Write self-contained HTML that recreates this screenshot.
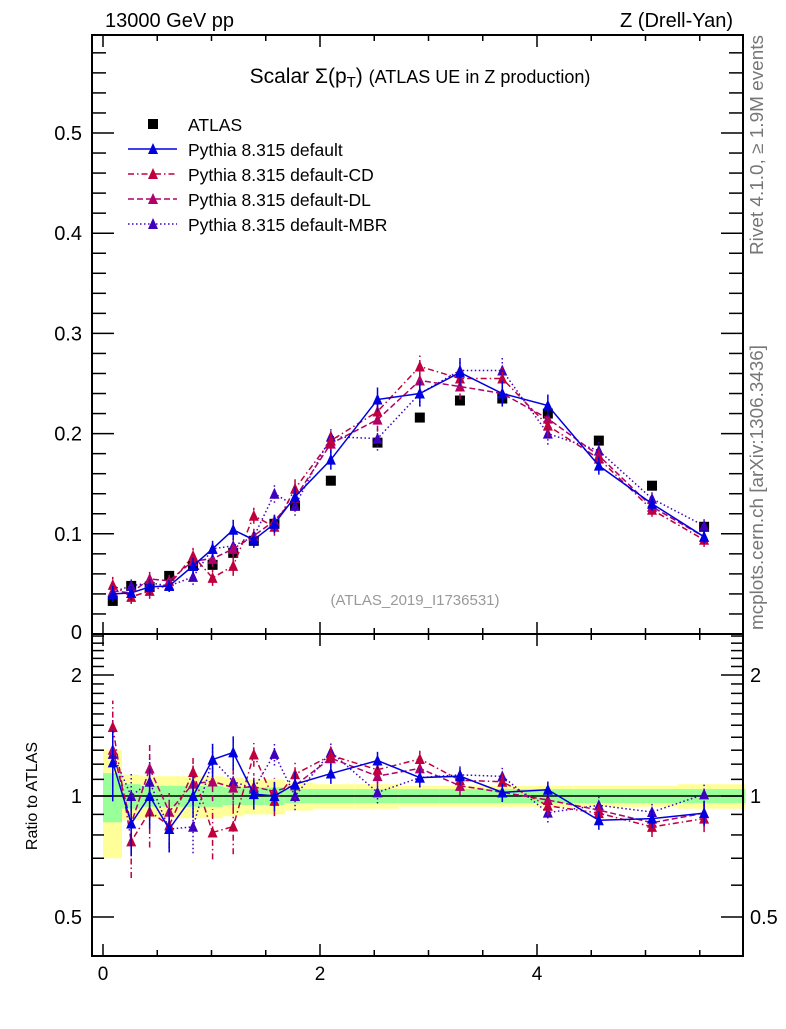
<!DOCTYPE html>
<html><head><meta charset="utf-8"><style>
body{margin:0;background:#fff;width:786px;height:1024px;overflow:hidden}
svg{font-family:"Liberation Sans",sans-serif}
</style></head><body>
<svg id="c" width="786" height="1024" xmlns="http://www.w3.org/2000/svg">
<text x="105" y="27" font-size="20">13000 GeV pp</text>
<text x="733" y="27" font-size="20" text-anchor="end">Z (Drell-Yan)</text>
<text x="420" y="83" font-size="21" text-anchor="middle">Scalar Σ(p<tspan font-size="15" dy="4">T</tspan><tspan dy="-4">) </tspan><tspan font-size="18">(ATLAS UE in Z production)</tspan></text>
<text x="415" y="605" font-size="15" fill="#999" text-anchor="middle">(ATLAS_2019_I1736531)</text>
<text transform="translate(763,255) rotate(-90)" font-size="18" fill="#777" textLength="220" lengthAdjust="spacingAndGlyphs">Rivet 4.1.0, ≥ 1.9M events</text>
<text transform="translate(763,630) rotate(-90)" font-size="18" fill="#777" textLength="285" lengthAdjust="spacingAndGlyphs">mcplots.cern.ch [arXiv:1306.3436]</text>
<text transform="translate(37,796) rotate(-90)" font-size="16" text-anchor="middle">Ratio to ATLAS</text>
<g id="g"></g>
</svg>
<script>
const xc=[0.09,0.26,0.43,0.61,0.83,1.01,1.20,1.39,1.58,1.77,2.10,2.53,2.92,3.29,3.68,4.10,4.57,5.06,5.54];
const dataV=[0.033,0.048,0.047,0.058,0.068,0.069,0.081,0.093,0.110,0.128,0.153,0.191,0.216,0.233,0.235,0.220,0.193,0.148,0.107];
const defV=[0.040,0.041,0.047,0.048,0.068,0.085,0.104,0.094,0.110,0.137,0.174,0.234,0.240,0.261,0.240,0.228,0.168,0.130,0.097];
const cdV=[0.049,0.037,0.043,0.049,0.078,0.056,0.068,0.118,0.107,0.145,0.193,0.222,0.267,0.255,0.255,0.208,0.175,0.124,0.094];
const dlV=[0.043,0.041,0.055,0.053,0.073,0.075,0.085,0.098,0.113,0.136,0.190,0.214,0.253,0.247,0.240,0.215,0.178,0.127,0.097];
const mbrV=[0.042,0.048,0.051,0.048,0.057,0.085,0.088,0.097,0.140,0.128,0.197,0.195,0.240,0.263,0.263,0.200,0.183,0.135,0.108];
const mcErr=[0.008,0.007,0.008,0.006,0.008,0.008,0.010,0.008,0.009,0.010,0.010,0.012,0.013,0.013,0.013,0.011,0.009,0.007,0.007];
const bandTot=[0.30,0.13,0.12,0.12,0.12,0.12,0.11,0.10,0.10,0.08,0.07,0.07,0.06,0.06,0.06,0.06,0.06,0.06,0.07];
const bandStat=[0.14,0.07,0.06,0.06,0.06,0.06,0.05,0.05,0.05,0.04,0.04,0.04,0.04,0.04,0.04,0.04,0.04,0.04,0.04];
const xTicks=[0,2,4];
const yTicks=[0.1,0.2,0.3,0.4,0.5];
const rTicks=[0.5,1,2];

const L=92,R=743,T=35,MB=634,RB=956;
const X=v=>103+v*108.5;
const Y=v=>MB-v*1002;
const RY=r=>796-121*Math.log2(r);
const NS="http://www.w3.org/2000/svg";
const g=document.getElementById('g');
function el(t,a,p){const e=document.createElementNS(NS,t);for(const k in a)e.setAttribute(k,a[k]);(p||g).appendChild(e);return e;}

const edges=[0];for(let i=0;i<xc.length-1;i++)edges.push((xc[i]+xc[i+1])/2);edges.push(5.92);
for(let i=0;i<xc.length;i++){
  let e=el('rect',{x:X(edges[i]),y:RY(1+bandTot[i]),width:X(edges[i+1])-X(edges[i]),height:RY(1-bandTot[i])-RY(1+bandTot[i]),fill:'#ffff99'});
  
  e=el('rect',{x:X(edges[i]),y:RY(1+bandStat[i]),width:X(edges[i+1])-X(edges[i]),height:RY(1-bandStat[i])-RY(1+bandStat[i]),fill:'#99ff99'});
  
}
let ln=el('line',{x1:L,x2:R,y1:RY(1),y2:RY(1),stroke:'#000','stroke-width':1.5});


for(const [t,b,n] of [[T,MB,'main-frame'],[MB,RB,'ratio-frame']]){
  const f=el('rect',{x:L,y:t,width:R-L,height:b-t,fill:'none',stroke:'#000','stroke-width':2});
  
}
for(let v=0;v<=5.8;v+=0.5){
  const maj=Math.abs(v%2)<1e-6||Math.abs(v%2-2)<1e-6;const len=maj?12:6;
  for(const [yb,yt] of [[MB,T],[RB,MB]]){
    el('line',{x1:X(v),x2:X(v),y1:yb,y2:yb-len,stroke:'#000','stroke-width':1.5});
    el('line',{x1:X(v),x2:X(v),y1:yt,y2:yt+len,stroke:'#000','stroke-width':1.5});
  }
}
xTicks.forEach(v=>{const t=el('text',{x:X(v),y:980,'font-size':19,'text-anchor':'middle'});t.textContent=v;
});
for(let v=0.02;v<0.6;v+=0.02){const maj=Math.abs(v*10-Math.round(v*10))<1e-6;const len=maj?22:14;
  el('line',{x1:L,x2:L+len,y1:Y(v),y2:Y(v),stroke:'#000','stroke-width':1.5});
  el('line',{x1:R,x2:R-len,y1:Y(v),y2:Y(v),stroke:'#000','stroke-width':1.5});}
yTicks.forEach(v=>{const t=el('text',{x:82,y:Y(v)+7,'font-size':20,'text-anchor':'end'});t.textContent=v.toFixed(1);
});
let z=el('text',{x:82,y:MB+5,'font-size':20,'text-anchor':'end'});z.textContent='0';
[0.5,0.6,0.7,0.8,0.9,1,1.1,1.2,1.3,1.4,1.5,1.6,1.7,1.8,1.9,2,2.1,2.2,2.3,2.4,2.5].forEach(v=>{
  const len=[0.5,1,2].includes(v)?22:12;if(RY(v)<MB+2)return;
  el('line',{x1:L,x2:L+len,y1:RY(v),y2:RY(v),stroke:'#000','stroke-width':1.5});
  el('line',{x1:R,x2:R-len,y1:RY(v),y2:RY(v),stroke:'#000','stroke-width':1.5});});
rTicks.forEach(v=>{let t=el('text',{x:82,y:RY(v)+7,'font-size':20,'text-anchor':'end'});t.textContent=v;

t=el('text',{x:750,y:RY(v)+7,'font-size':20});t.textContent=v;
});

dataV.forEach((v,i)=>{const r=el('rect',{x:X(xc[i])-5,y:Y(v)-5,width:10,height:10,fill:'#000'});
});

const series=[
 {v:mbrV,c:'#4000c0',d:'1.5,2.5',n:'mbr'},
 {v:dlV,c:'#b0006a',d:'6,3',n:'dl'},
 {v:cdV,c:'#c0003c',d:'6,3,1.5,3',n:'cd'},
 {v:defV,c:'#0000e0',d:'',n:'default'}];
function tri(x,y,c,name){const p=el('polygon',{points:`${x-5},${y+5} ${x+5},${y+5} ${x},${y-6}`,fill:c});
}
series.forEach(s=>{
  const pts=s.v.map((v,i)=>X(xc[i])+','+Y(v)).join(' ');
  let pl=el('polyline',{points:pts,fill:'none',stroke:s.c,'stroke-width':1.5,'stroke-dasharray':s.d});
  
  const rpts=s.v.map((v,i)=>X(xc[i])+','+RY(v/dataV[i])).join(' ');
  pl=el('polyline',{points:rpts,fill:'none',stroke:s.c,'stroke-width':1.5,'stroke-dasharray':s.d});
  
  s.v.forEach((v,i)=>{const x=X(xc[i]);
    el('line',{x1:x,x2:x,y1:Y(v-mcErr[i]),y2:Y(v+mcErr[i]),stroke:s.c,'stroke-width':1.5,'stroke-dasharray':s.d});
    const r=v/dataV[i],re=mcErr[i]/dataV[i];
    el('line',{x1:x,x2:x,y1:RY(Math.max(r-re,0.41)),y2:RY(r+re),stroke:s.c,'stroke-width':1.5,'stroke-dasharray':s.d});
    tri(x,Y(v),s.c,s.n+'-marker');tri(x,RY(r),s.c,s.n+'-ratio-marker');});
});

const leg=[['ATLAS',null],['Pythia 8.315 default',series[3]],['Pythia 8.315 default-CD',series[2]],['Pythia 8.315 default-DL',series[1]],['Pythia 8.315 default-MBR',series[0]]];
leg.forEach((l,i)=>{const y=124+i*25;
  const t=el('text',{x:188,y:y+7,'font-size':17.5});t.textContent=l[0];
  
  if(!l[1]){el('rect',{x:148,y:y-5,width:10,height:10,fill:'#000'});}
  else{el('line',{x1:128,x2:177,y1:y,y2:y,stroke:l[1].c,'stroke-width':1.5,'stroke-dasharray':l[1].d});tri(153,y,l[1].c,'legend-marker');}
});
</script>
</body></html>
